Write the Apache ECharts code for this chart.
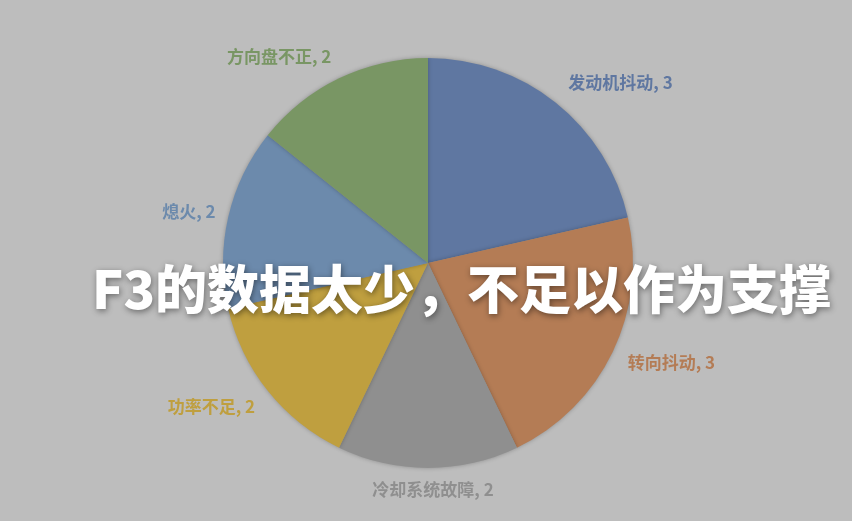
<!DOCTYPE html>
<html><head><meta charset="utf-8">
<script src="https://cdn.jsdelivr.net/npm/echarts@6/dist/echarts.min.js"></script>
<style>html,body{margin:0;padding:0;background:#bdbdbd;}#c{width:852px;height:521px;}</style>
</head><body><div id="c"></div>
<script>
const categories = ['发动机抖动','转向抖动','冷却系统故障','功率不足','熄火','方向盘不正'];
const values = [3,3,2,2,2,2];
const colors = ['#5f77a1','#b47c55','#8f8f8f','#bf9f3f','#6c8aac','#799664'];
const titleText = 'F3的数据太少，不足以作为支撑';

// small label nudges (Excel "best fit" placement)
const nudge = {
  '发动机抖动': [-5, -5], '转向抖动': [-8, 2], '冷却系统故障': [0, 2],
  '功率不足': [8, 3], '熄火': [12, -1], '方向盘不正': [6, -4]
};

const chart = echarts.init(document.getElementById('c'));
chart.setOption({
  backgroundColor: '#bdbdbd',
  animation: false,
  title: {
    text: titleText, left: 87, top: 258,
    textStyle: {color:'#ffffff', fontSize: 52, fontWeight: 900, fontFamily: 'Noto Sans CJK SC',
      textShadowColor:'rgba(0,0,0,0.45)', textShadowBlur: 6, textShadowOffsetX: 1, textShadowOffsetY: 2}
  },
  series: [{
    type: 'pie', center: [428, 263], radius: 205, startAngle: 90, clockwise: true,
    z: 1,
    itemStyle: {borderWidth: 0, shadowColor:'rgba(0,0,0,0.25)', shadowBlur: 4},
    label: {show: true, position: 'outside', formatter: '{b}, {c}', fontSize: 17, fontWeight: 'bold',
      fontFamily: 'Noto Sans CJK SC', color: 'inherit'},
    labelLine: {show: false, length: 20, length2: 0},
    labelLayout: function (p) {
      const n = nudge[p.text.split(',')[0]] || [0, 0];
      const r = {dx: n[0], dy: n[1]};
      if (p.text.indexOf('冷却') === 0) r.align = 'center';
      return r;
    },
    data: categories.map((n,i)=>({name:n, value:values[i], itemStyle:{color:colors[i]}, label:{color:colors[i]}}))
  }]
});
</script></body></html>
